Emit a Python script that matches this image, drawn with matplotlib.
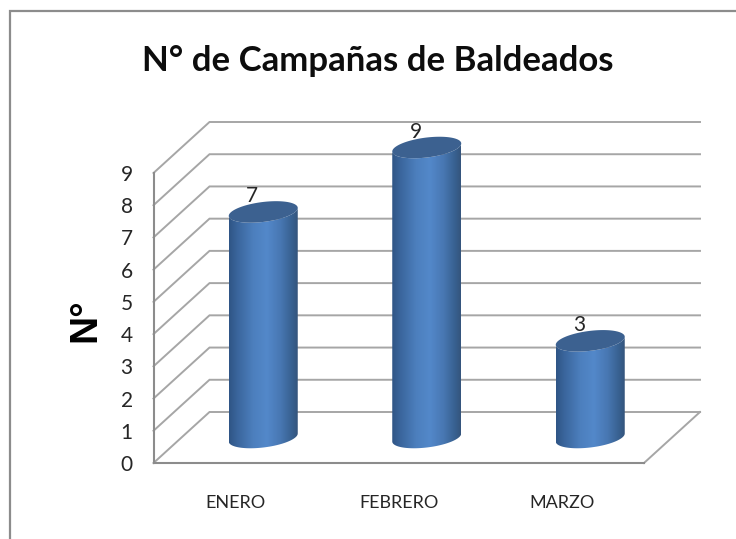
import numpy as np
import matplotlib
matplotlib.use("Agg")
import matplotlib.pyplot as plt
from matplotlib.colors import LinearSegmentedColormap
from matplotlib.lines import Line2D
from matplotlib.patches import Polygon

categories = ["ENERO", "FEBRERO", "MARZO"]
values = [7, 9, 3]
y_ticks = [0, 1, 2, 3, 4, 5, 6, 7, 8, 9]
title = "N° de Campañas de Baldeados"
y_label = "N°"

W, H = 736, 539
fig = plt.figure(figsize=(W / 100, H / 100), dpi=100, facecolor="white")
fig.add_artist(Line2D([9.5 / W, 9.5 / W, 1], [0, (H - 11) / H, (H - 11) / H],
                      transform=fig.transFigure, color="#8c8c8c", lw=1.6,
                      solid_joinstyle="miter"))

ax = fig.add_axes([153.5 / W, (H - 463) / H, 490.5 / W, 290 / H])
ax.patch.set_alpha(0)
xlim = (-0.5, len(categories) - 0.5)
ylim = (0, max(y_ticks))
px_x = 490.5 / 3
px_y = 290 / 9
depth_x = 56 / px_x
depth_y = 51 / px_y
GRID = "#a6a6a6"
FONT = ["Lato", "DejaVu Sans"]

for s in ("top", "right"):
    ax.spines[s].set_visible(False)
for s in ("left", "bottom"):
    ax.spines[s].set_color("#8c8c8c")
    ax.spines[s].set_linewidth(1.5)

for v in y_ticks:
    ax.plot([xlim[0], xlim[0] + depth_x, xlim[1] + depth_x],
            [v, v + depth_y, v + depth_y], color=GRID, lw=1.4,
            clip_on=False, zorder=1, solid_joinstyle="miter")
ax.plot([xlim[1], xlim[1] + depth_x], [0, depth_y], color=GRID, lw=1.4, clip_on=False, zorder=1)

cmap = LinearSegmentedColormap.from_list(
    "cyl", [(0, "#2f5585"), (0.12, "#3a659c"), (0.35, "#4c7fbd"), (0.55, "#5388ca"),
            (0.75, "#4877b2"), (0.92, "#37608f"), (1, "#35557c")])
grad = np.linspace(0, 1, 256).reshape(1, -1)

rx = 34.5 / px_x
ry = 10.0 / px_y
shear = 4.0 / px_y


def ell(cx, cy, t):
    return cx + rx * np.cos(t), cy + ry * np.sin(t) + shear * np.cos(t)


for i, v in enumerate(values):
    cx = i + depth_x / 2
    y0 = depth_y / 2
    y1 = v + depth_y / 2
    xb, yb = ell(cx, y0, np.linspace(np.pi, 2 * np.pi, 60))
    xt, yt = ell(cx, y1, np.linspace(2 * np.pi, np.pi, 60))
    side = Polygon(np.column_stack([np.r_[xb, xt], np.r_[yb, yt]]), closed=True,
                   transform=ax.transData, facecolor="none", edgecolor="none", clip_on=False)
    ax.add_patch(side)
    im = ax.imshow(grad, extent=(cx - rx, cx + rx, y0 - 2, y1 + 2), aspect="auto",
                   cmap=cmap, zorder=3, interpolation="bilinear")
    im.set_clip_box(fig.bbox)
    im.set_clip_path(side)
    xe, ye = ell(cx, y1, np.linspace(0, 2 * np.pi, 120))
    ax.add_patch(Polygon(np.column_stack([xe, ye]), closed=True, facecolor="#3c6190",
                         edgecolor="none", zorder=4, clip_on=False))
    ax.annotate(str(v), (cx, y1), xytext=(-8, 11.5), textcoords="offset points",
                ha="center", va="center", fontsize=15, family=FONT, color="#262626",
                zorder=2, annotation_clip=False)

ax.set_xlim(*xlim)
ax.set_ylim(*ylim)
ax.set_xticks(range(len(categories)))
ax.set_xticklabels(categories, fontsize=13, family=FONT, color="#262626")
ax.set_yticks(y_ticks)
ax.set_yticklabels([str(t) for t in y_ticks], fontsize=15, family=FONT, color="#262626")
ax.tick_params(axis="x", length=0, pad=23)
ax.tick_params(axis="y", length=0, pad=15)

fig.text(378 / W, (H - 71) / H, title, ha="center", va="baseline", fontsize=25,
         fontweight="bold", family=FONT, color="#0d0d0d")
fig.text(85 / W, (H - 320) / H, y_label, rotation=90, ha="center", va="center", fontsize=28,
         fontweight="bold", family=["Liberation Sans", "DejaVu Sans"], color="#000000")

fig.savefig("out.png", dpi=100)
